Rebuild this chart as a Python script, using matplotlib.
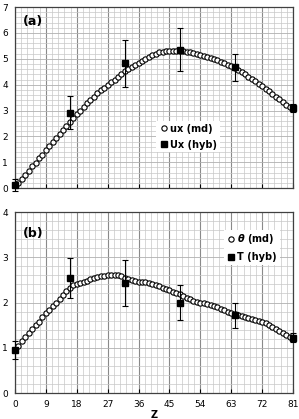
import numpy as np
import matplotlib.pyplot as plt
from matplotlib.ticker import MultipleLocator
from matplotlib.lines import Line2D

# DATA
z_md = list(range(1, 82))

ux_md = [0.20, 0.36, 0.52, 0.68, 0.84, 0.99, 1.15, 1.30, 1.46, 1.62,
         1.77, 1.93, 2.08, 2.24, 2.39, 2.55, 2.70, 2.85, 3.00, 3.14,
         3.28, 3.41, 3.54, 3.66, 3.78, 3.89, 4.00, 4.10, 4.20, 4.30,
         4.41, 4.52, 4.62, 4.70, 4.77, 4.84, 4.91, 5.00, 5.08, 5.15,
         5.20, 5.25, 5.28, 5.30, 5.31, 5.32, 5.32, 5.31, 5.29, 5.27,
         5.25, 5.22, 5.19, 5.16, 5.12, 5.08, 5.04, 4.99, 4.94, 4.89,
         4.83, 4.77, 4.71, 4.64, 4.56, 4.48, 4.40, 4.31, 4.22, 4.13,
         4.04, 3.94, 3.84, 3.74, 3.64, 3.54, 3.43, 3.33, 3.23, 3.13,
         3.05]

theta_md = [1.05, 1.15, 1.24, 1.32, 1.41, 1.50, 1.58, 1.67, 1.76, 1.84,
            1.92, 2.00, 2.08, 2.17, 2.26, 2.33, 2.38, 2.41, 2.43, 2.45,
            2.48, 2.52, 2.55, 2.57, 2.58, 2.59, 2.60, 2.60, 2.60, 2.60,
            2.59, 2.55, 2.52, 2.49, 2.47, 2.46, 2.45, 2.45, 2.44, 2.42,
            2.39, 2.36, 2.33, 2.30, 2.27, 2.24, 2.21, 2.18, 2.14, 2.10,
            2.07, 2.04, 2.02, 2.00, 1.98, 1.96, 1.94, 1.92, 1.89, 1.86,
            1.83, 1.80, 1.77, 1.75, 1.73, 1.70, 1.67, 1.65, 1.63, 1.61,
            1.59, 1.57, 1.54, 1.50, 1.46, 1.42, 1.37, 1.33, 1.29, 1.24,
            1.21]

z_hyb = [0, 16, 32, 48, 64, 81]
ux_hyb = [0.12, 2.92, 4.83, 5.35, 4.68, 3.10]
ux_err = [0.22, 0.65, 0.90, 0.83, 0.52, 0.15]
t_hyb = [0.95, 2.54, 2.43, 2.00, 1.72, 1.22]
t_err = [0.19, 0.44, 0.51, 0.39, 0.28, 0.10]

x_ticks = [0, 9, 18, 27, 36, 45, 54, 63, 72, 81]

plt.rcParams['font.family'] = 'DejaVu Sans'

fig = plt.figure(figsize=(2.99, 4.19), dpi=100)
ax1 = fig.add_axes([0.050, 0.551, 0.930, 0.432])
ax2 = fig.add_axes([0.050, 0.062, 0.930, 0.432])


def style(ax, ymax):
    ax.set_xlim(0, 81)
    ax.set_ylim(0, ymax)
    ax.set_xticks(x_ticks)
    ax.xaxis.set_minor_locator(MultipleLocator(1.8))
    ax.set_yticks(range(0, ymax + 1))
    ax.yaxis.set_minor_locator(MultipleLocator(0.2))
    ax.grid(which='minor', color='#c8c8c8', lw=0.5)
    ax.grid(which='major', axis='x', color='#8a8a8a', lw=0.8)
    ax.grid(which='major', axis='y', color='#b0b0b0', lw=0.6)
    ax.set_axisbelow(True)
    ax.tick_params(axis='x', which='major', direction='in', length=3,
                   labelsize=6.5, pad=5)
    ax.tick_params(axis='y', which='major', length=0, labelsize=6.5, pad=5)
    ax.tick_params(which='minor', length=0)
    for s in ax.spines.values():
        s.set_color('#404040')
        s.set_linewidth(0.9)


def handles(md_label, hyb_label):
    h_md = Line2D([], [], ls='none', marker='o', ms=3.8, mfc='white',
                  mec='black', mew=0.8)
    h_hyb = Line2D([], [], ls='none', marker='s', ms=4.5, color='black')
    return [h_md, h_hyb], [md_label, hyb_label]


style(ax1, 7)
style(ax2, 4)
ax1.tick_params(axis='x', labelbottom=False)

leg_kw = dict(prop={'size': 7, 'weight': 'bold'}, frameon=True,
              handletextpad=0.1, handlelength=1.0, borderpad=0.3,
              labelspacing=0.6, fancybox=False, framealpha=1)

# (a)
ax1.plot(z_md, ux_md, 'o', ms=3.8, mfc='white', mec='black', mew=0.8,
         zorder=3)
ax1.errorbar(z_hyb, ux_hyb, yerr=ux_err, fmt='s', ms=4.5, color='black',
             ecolor='black', elinewidth=0.8, capsize=2, capthick=0.8,
             zorder=4, clip_on=False)
ax1.text(0.03, 0.92, '(a)', transform=ax1.transAxes, fontsize=9,
         fontweight='bold', va='center', ha='left')
h, l = handles('ux (md)', 'Ux (hyb)')
leg1 = ax1.legend(h, l, loc='lower left', bbox_to_anchor=(0.49, 0.17),
                  **leg_kw)
leg1.get_frame().set_edgecolor('none')

# (b)
ax2.plot(z_md, theta_md, 'o', ms=3.8, mfc='white', mec='black', mew=0.8,
         zorder=3)
ax2.errorbar(z_hyb, t_hyb, yerr=t_err, fmt='s', ms=4.5, color='black',
             ecolor='black', elinewidth=0.8, capsize=2, capthick=0.8,
             zorder=4, clip_on=False)
ax2.text(0.03, 0.88, '(b)', transform=ax2.transAxes, fontsize=9,
         fontweight='bold', va='center', ha='left')
h, l = handles(r'$\boldsymbol{\theta}$ (md)', 'T (hyb)')
leg2 = ax2.legend(h, l, loc='upper right', bbox_to_anchor=(0.97, 0.93),
                  **leg_kw)
leg2.get_frame().set_edgecolor('none')

ax2.set_xlabel('Z', fontsize=7, fontweight='bold', labelpad=1)

fig.savefig('out.png', dpi=100)
